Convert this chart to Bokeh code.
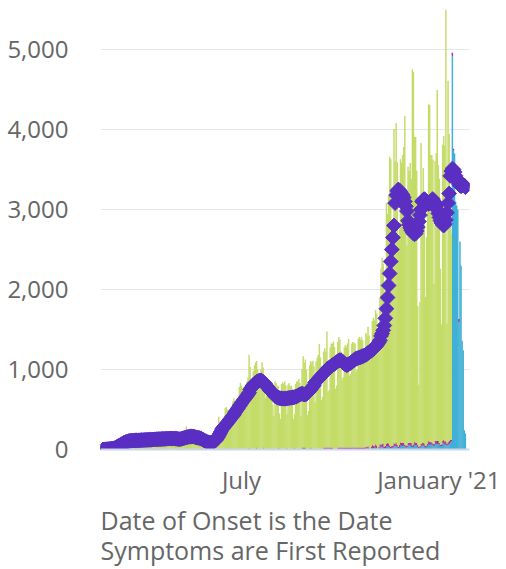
import numpy as np
import pandas as pd
from bokeh.plotting import figure
from bokeh.models import ColumnDataSource, FixedTicker, NumeralTickFormatter, Range1d, Title
from bokeh.embed import file_html
from bokeh.resources import INLINE

# ---------------- data (daily) ----------------
green_start = "2020-02-24"
green = [
    1, 0, 0, 2, 1,
    3, 5, 4, 2, 3, 8, 10,
    22, 28, 20, 25, 55, 70,
    80, 90, 95, 70, 75, 110,
    118, 125, 115, 85, 90, 120, 130,
    125, 130, 120, 90, 92, 135,
    130, 135, 125, 95, 98, 132, 138,
    135, 138, 130, 100, 102, 142,
    140, 142, 132, 100, 105, 138, 145,
    142, 146, 135, 108, 140, 148,
    145, 150, 138, 105, 110, 142, 150,
    138, 140, 128, 105, 150, 165,
    175, 290, 160, 125, 130, 170, 180,
    175, 180, 165, 125, 165, 170,
    160, 155, 140, 95, 90, 110, 100,
    95, 98, 70, 72, 95, 105,
    110, 130, 150, 120, 130, 410, 240,
    260, 340, 250, 270, 520, 530,
    500, 470, 480, 350, 370, 600, 640,
    600, 580, 430, 450, 780, 830,
    800, 760, 720, 560, 600, 850, 900,
    1160, 1030, 700, 720, 980, 1050,
    1090, 1080, 1000, 750, 780, 1000,
    1090, 1000, 900, 640, 700, 850, 870,
    860, 840, 800, 560, 420, 850,
    830, 800, 760, 450, 380, 820, 840,
    820, 850, 800, 420, 810, 830,
    790, 800, 760, 380, 420, 820, 850,
    850, 880, 830, 420, 980, 1140,
    1060, 1100, 1000, 430, 480, 1050, 1080,
    1080, 1110, 1040, 590, 1100, 1150,
    1180, 1320, 1150, 620, 660, 1200, 1240,
    1200, 1450, 690, 720, 1250, 1300,
    1300, 1350, 1280, 760, 800, 1320, 1380,
    1350, 1200, 860, 880, 1250, 1280,
    1260, 1300, 1360, 900, 920, 1300, 1320,
    1310, 1300, 950, 980, 1360, 1380,
    1350, 1380, 1340, 1090, 1100, 1420, 1400,
    1490, 1400, 1150, 1200, 1550, 1600,
    1570, 1680, 1650, 1350, 1400, 1820,
    2200, 2320, 2250, 1600, 2000, 3010, 2860,
    3100, 3610, 3600, 2400, 2600, 3920,
    3530, 3990, 3530, 2600, 2700, 3540, 3500,
    3600, 3700, 4110, 2700, 2500, 3450,
    3400, 3500, 3300, 4700, 4650, 3810, 3820,
    3400, 1740, 780, 1800, 3760, 3100,
    3440, 3000, 1860, 2600, 3000, 4210, 4210,
    3590, 3590, 3550, 2000, 3500, 3600,
    4390, 3450, 3300, 2200, 1500, 3700, 3800,
    3700, 5400, 1500, 4520, 3840, 2900,
    2570,
]

magenta_start = "2020-07-08"
magenta = [
    25, 0, 0, 0, 0, 0,
    0, 25, 0, 0, 0, 0,
    0, 25, 0, 0, 0, 0, 0,
    0, 0, 0, 0, 0, 0,
    0, 0, 25, 0, 0, 0, 0,
    0, 0, 0, 25, 0, 0,
    0, 0, 0, 0, 25, 0, 0,
    0, 0, 0, 0, 25, 25,
    25, 25, 0, 0, 0, 0, 25,
    0, 0, 0, 0, 0, 0,
    0, 0, 0, 0, 0, 25, 25,
    25, 25, 25, 25, 25, 25,
    25, 0, 0, 0, 0, 25, 25,
    25, 25, 25, 25, 25, 25,
    25, 25, 25, 25, 25, 25, 25,
    25, 25, 25, 25, 25, 25,
    25, 25, 25, 25, 25, 25, 20,
    30, 15, 0, 25, 35, 30,
    20, 40, 35, 0, 20, 45,
    30, 40, 50, 20, 25, 30, 45,
    40, 20, 15, 30, 25, 40,
    30, 45, 25, 15, 30, 40, 35,
    35, 30, 20, 25, 20, 35,
    30, 25, 35, 20, 30, 40, 30,
    35, 25, 15, 20, 30, 30,
    25, 30, 20, 15, 30, 40, 35,
    30, 25, 20, 30, 35, 40,
    35, 30, 25, 20, 20, 30, 35,
    40, 35, 25, 30, 35, 30,
    20, 40, 20, 0, 0, 0, 0,
    40,
]

blue_start = "2020-10-19"
blue = [
    0, 0, 0, 0, 0, 10, 8,
    15, 10, 5, 8, 20, 18,
    22, 25, 15, 10, 12, 30,
    30, 35, 25, 15, 20, 40, 38,
    35, 30, 20, 15, 25, 45,
    42, 45, 35, 20, 25, 50, 48,
    45, 50, 40, 25, 30, 50,
    50, 55, 45, 30, 35, 60, 55,
    50, 30, 15, 25, 40, 50,
    55, 45, 25, 35, 45, 65, 60,
    60, 65, 55, 40, 70, 65,
    70, 75, 60, 40, 45, 80, 85,
    60, 70, 50, 60, 70, 90,
    100, 4920, 3740, 3700, 3100, 3050, 3000,
    1590, 2600, 2300, 1360, 1240, 240,
    200,
]

avg_start = "2020-02-24"
avg7 = [
    1, 1, 2, 3, 4, 5, 6, 8,
    10, 12, 15, 18, 28, 35, 42, 50, 58,
    66, 74, 82, 88, 94, 98, 102, 107, 108,
    110, 111, 112, 112, 113, 114, 114, 115, 115, 116,
    118, 118, 119, 120, 120, 121, 122, 122, 123,
    124, 125, 126, 127, 128, 128, 129, 130, 130,
    131, 132, 133, 133, 134, 135, 135, 136, 137,
    137, 138, 138, 137, 136, 134, 132, 130, 130, 131,
    136, 140, 144, 148, 152, 155, 158, 160, 162,
    163, 162, 160, 157, 150, 148, 146, 144, 140,
    134, 126, 118, 110, 103, 97, 92, 85, 84,
    85, 88, 94, 102, 114, 130, 150, 175, 200, 225,
    255, 270, 285, 300, 318, 335, 352, 370, 388,
    405, 420, 435, 465, 482, 500, 520, 540, 560,
    580, 600, 618, 635, 652, 670, 690, 710, 750,
    770, 790, 808, 822, 835, 845, 852, 858, 862, 865,
    855, 845, 832, 818, 800, 782, 762, 745, 730,
    718, 705, 692, 668, 660, 652, 647, 643, 640,
    638, 636, 635, 635, 636, 638, 642, 644, 646,
    648, 650, 652, 655, 660, 665, 672, 680, 688, 695,
    698, 692, 688, 690, 695, 705, 718, 735, 752,
    770, 788, 805, 835, 850, 865, 880, 895, 910,
    925, 940, 955, 968, 980, 1003, 1012, 1022, 1032,
    1042, 1052, 1062, 1072, 1082, 1092, 1102, 1112, 1118,
    1115, 1105, 1090, 1075, 1062, 1055, 1058, 1065, 1075, 1085,
    1095, 1105, 1115, 1130, 1135, 1140, 1145, 1150, 1155,
    1160, 1165, 1170, 1177, 1185, 1192, 1208, 1216, 1225,
    1235, 1245, 1258, 1270, 1285, 1300, 1320, 1340, 1365,
    1420, 1450, 1490, 1550, 1640, 1760, 1900, 2050, 2200, 2350,
    2500, 2650, 2800, 3080, 3180, 3230, 3250, 3240, 3220,
    3200, 3180, 3150, 3100, 3040, 2980, 2860, 2810, 2770,
    2740, 2720, 2700, 2690, 2700, 2730, 2780, 2850, 2930, 3000,
    3100, 3120, 3130, 3120, 3100, 3080, 3070, 3080, 3100,
    3120, 3130, 3100, 3080, 3050, 3000, 2950, 2900, 2860,
    2830, 2810, 2800, 2820, 2870, 2960, 3080, 3200, 3420,
    3480, 3510, 3500, 3470, 3420, 3380, 3350, 3320, 3300,
    3290, 3300, 3310, 3300, 3280,
]

x_tick_dates = ["2020-07-01", "2021-01-01"]
x_tick_labels = ["July", "January '21"]
y_ticks = [0, 1000, 2000, 3000, 4000, 5000]
caption = "Date of Onset is the Date\nSymptoms are First Reported"

colors = {"blue": "#3fb0d6", "magenta": "#b02fa0", "green": "#c4dc68", "avg": "#5a2fc2"}

# ---------------- build table ----------------
def series(start, vals):
    return pd.Series(vals, index=pd.date_range(start, periods=len(vals), freq="D"), dtype=float)

s_green = series(green_start, green)
s_mag = series(magenta_start, magenta)
s_blue = series(blue_start, blue)
s_avg = series(avg_start, avg7)
idx = s_green.index.union(s_mag.index).union(s_blue.index).union(s_avg.index)
df = pd.DataFrame({
    "date": idx,
    "green": s_green.reindex(idx, fill_value=0).values,
    "magenta": s_mag.reindex(idx, fill_value=0).values,
    "blue": s_blue.reindex(idx, fill_value=0).values,
})
src = ColumnDataSource(df)
avg_src = ColumnDataSource(dict(date=s_avg.index, avg=s_avg.values))

# ---------------- figure ----------------
x_start = pd.Timestamp("2020-02-21 15:00")
x_end = pd.Timestamp("2021-01-27 19:40")
p = figure(
    width=500, height=569,
    x_axis_type="datetime",
    x_range=Range1d(x_start, x_end),
    y_range=Range1d(0, 5500),
    output_backend="svg", toolbar_location=None,
    min_border_left=100, min_border_right=31, min_border_top=9, min_border_bottom=120,
    outline_line_color=None, background_fill_color="white", border_fill_color="white",
)

day_ms = 24 * 3600 * 1000
p.vbar_stack(["blue", "magenta", "green"], x="date", width=day_ms * 1.35, source=src,
             fill_color=[colors["blue"], colors["magenta"], colors["green"]], line_color=None)

p.scatter("date", "avg", source=avg_src, marker="square", size=10.5, angle=np.pi / 4,
          fill_color=colors["avg"], line_color=colors["avg"], line_width=1)

# y axis
p.yaxis.ticker = FixedTicker(ticks=y_ticks)
p.yaxis.formatter = NumeralTickFormatter(format="0,0")
p.yaxis.axis_line_color = None
p.yaxis.major_tick_line_color = None
p.yaxis.minor_tick_line_color = None
p.yaxis.major_label_standoff = 26
p.yaxis.major_label_text_font = "Open Sans"
p.yaxis.major_label_text_font_size = "24px"
p.yaxis.major_label_text_color = "#666666"
p.ygrid.ticker = FixedTicker(ticks=y_ticks)
p.ygrid.grid_line_color = "#e6e6e6"
p.ygrid.grid_line_width = 1
p.xgrid.grid_line_color = None

# x axis
tick_ms = [pd.Timestamp(d).value // 10**6 for d in x_tick_dates]
p.xaxis.ticker = FixedTicker(ticks=tick_ms)
p.xaxis.major_label_overrides = {t: lab for t, lab in zip(tick_ms, x_tick_labels)}
p.xaxis.axis_line_color = "#ccd6eb"
p.xaxis.axis_line_width = 2
p.xaxis.major_tick_line_color = None
p.xaxis.minor_tick_line_color = None
p.xaxis.major_label_standoff = 7
p.xaxis.major_label_text_font = "Open Sans"
p.xaxis.major_label_text_font_size = "24px"
p.xaxis.major_label_text_color = "#666666"

# caption under the axis
p.add_layout(Title(text=caption, align="left", text_font="Open Sans", text_font_size="25px",
                   text_font_style="normal", text_color="#666666", text_line_height=0.88,
                   standoff=5), "below")

open("out.html", "w").write(file_html(p, INLINE))
